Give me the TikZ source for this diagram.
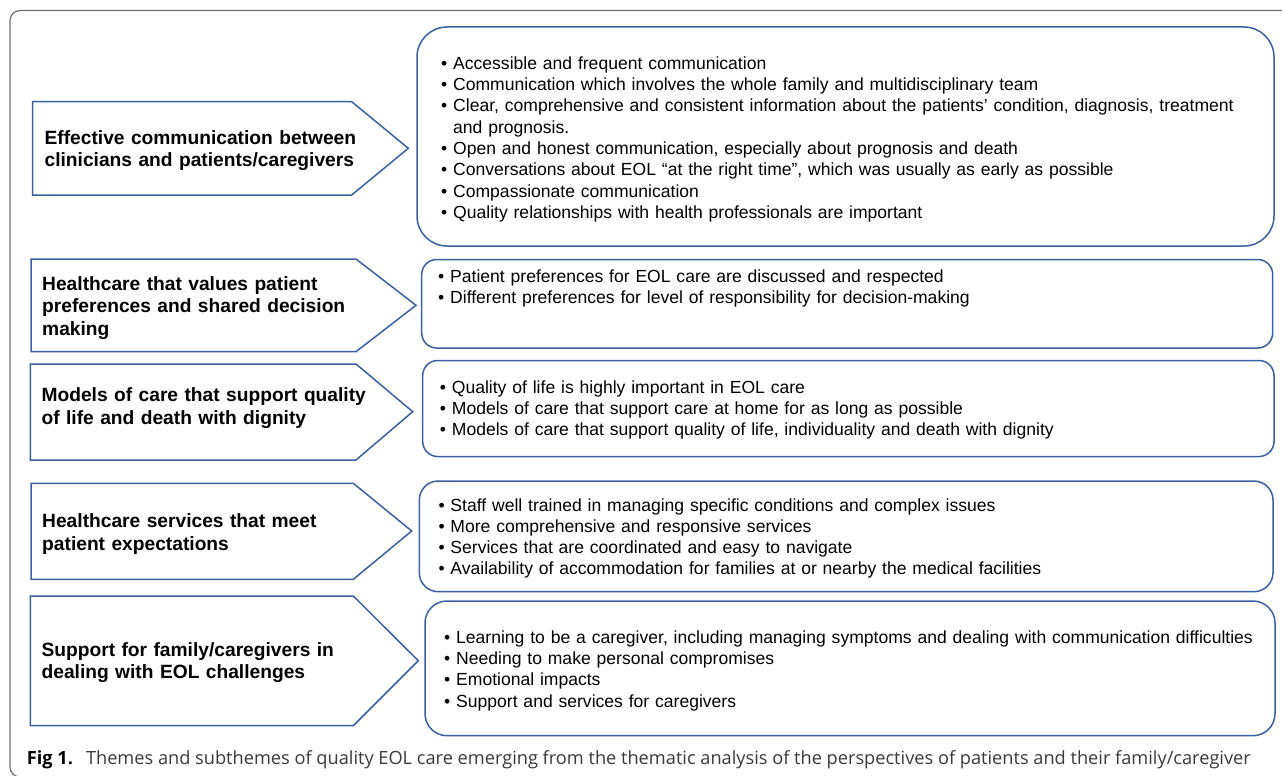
\documentclass[tikz,border=0pt]{standalone}
\usepackage{fontspec}
\setmainfont{Liberation Sans}
\newfontfamily\captionfont{Open Sans}
\definecolor{themeblue}{HTML}{3C5FA0}
\definecolor{framegray}{HTML}{6E6E6E}
\definecolor{captiongray}{HTML}{3A3A3A}
\tikzset{
  x=1pt,
  y=-1pt,
}
\tikzstyle{theme}=[themeblue,line width=1.5pt,line join=miter]
\tikzstyle{subthemes}=[themeblue,line width=1.5pt]
\tikzstyle{title}=[anchor=base west,inner sep=0pt,text width=340pt,align=left,
  font=\bfseries\fontsize{19.2}{22.7}\selectfont]
\tikzstyle{bullets}=[anchor=base west,inner sep=0pt,text width=840pt,align=left,
  font=\fontsize{17.55}{21.3}\selectfont]
\newcommand{\blt}{\textbullet\ }

\begin{document}
\begin{tikzpicture}
  \clip (0,0) rectangle (1282,776);
  \draw[framegray,line width=1.2pt,rounded corners=10pt] (10,10.5) rectangle (1300,777);

  % themes
  \draw[theme] (32.7,101.7)--(351.7,101.7)--(408.3,148.3)--(351.7,195)--(32.7,195)--cycle;
  \draw[theme] (31,259)--(356,259)--(416,305.3)--(356,351.7)--(31,351.7)--cycle;
  \draw[theme] (30.3,364)--(356,364)--(412.7,411.7)--(356,460)--(30.3,460)--cycle;
  \draw[theme] (31,483.3)--(353.3,483.3)--(411.7,531)--(353.3,579.3)--(31,579.3)--cycle;
  \draw[theme] (30.3,596)--(353.3,596)--(418.3,660.7)--(353.3,725.7)--(30.3,725.7)--cycle;

  \node[title] (commtheme) at (44.4,144)
    {\makebox[322pt][s]{Effective communication between}\\clinicians and patients/caregivers};
  \node[title] (preftheme) at (42,290)
    {Healthcare that values patient\\preferences and shared decision\\making};
  \node[title] (caretheme) at (41.4,401.7)
    {Models of care that support quality\\of life and death with dignity};
  \node[title] (servtheme) at (42,527.3)
    {Healthcare services that meet\\patient expectations};
  \node[title] (suptheme) at (41.4,656)
    {Support for family/caregivers in\\dealing with EOL challenges};

  % subthemes
  \draw[subthemes,rounded corners=30pt] (417,27) rectangle (1274,246);
  \draw[subthemes,rounded corners=15pt] (421.7,259.5) rectangle (1272.7,348);
  \draw[subthemes,rounded corners=15pt] (422.7,360.5) rectangle (1274,456.5);
  \draw[subthemes,rounded corners=19pt] (419.3,481) rectangle (1273,591.7);
  \draw[subthemes,rounded corners=22pt] (425,601) rectangle (1275,735.7);

  \node[bullets] (commlist) at (441,69.3)
    {\blt Accessible and frequent communication\\
     \blt Communication which involves the whole family and multidisciplinary team\\
     \blt Clear, comprehensive and consistent information about the patients' condition, diagnosis, treatment\\
     \hphantom{\blt}and prognosis.\\
     \blt Open and honest communication, especially about prognosis and death\\
     \blt Conversations about EOL ``at the right time'', which was usually as early as possible\\
     \blt Compassionate communication\\
     \blt Quality relationships with health professionals are important};
  \node[bullets] (preflist) at (438,282.3)
    {\blt Patient preferences for EOL care are discussed and respected\\
     \blt Different preferences for level of responsibility for decision-making};
  \node[bullets] (carelist) at (439.7,393.3)
    {\blt Quality of life is highly important in EOL care\\
     \blt Models of care that support care at home for as long as possible\\
     \blt Models of care that support quality of life, individuality and death with dignity};
  \node[bullets] (servlist) at (438.3,511)
    {\blt Staff well trained in managing specific conditions and complex issues\\
     \blt More comprehensive and responsive services\\
     \blt Services that are coordinated and easy to navigate\\
     \blt Availability of accommodation for families at or nearby the medical facilities};
  \node[bullets] (suplist) at (444,643.3)
    {\blt Learning to be a caregiver, including managing symptoms and dealing with communication difficulties\\
     \blt Needing to make personal compromises\\
     \blt Emotional impacts\\
     \blt Support and services for caregivers};

  \node[anchor=base west,inner sep=0pt] (caption) at (26.7,764)
    {\captionfont\fontsize{18.2}{22}\selectfont\textbf{Fig 1.}\hspace{13pt}\color{captiongray}Themes and subthemes of quality EOL care emerging from the thematic analysis of the perspectives of patients and their family/caregiver};
\end{tikzpicture}
\end{document}
